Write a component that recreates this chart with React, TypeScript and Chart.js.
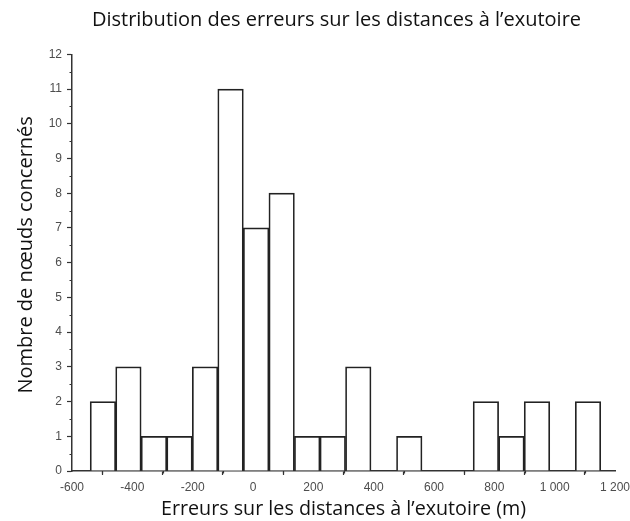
import React, { useEffect, useRef } from "react";
import { Chart, registerables } from "chart.js";

Chart.register(...registerables);

const binEdges = [-540, -455, -371, -286, -201, -117, -32, 53, 137, 222, 307, 391, 476, 560, 645, 730, 814, 899, 984, 1068, 1153];
const counts = [2, 3, 1, 1, 3, 11, 7, 8, 1, 1, 3, 0, 1, 0, 0, 2, 1, 2, 0, 2];

const xTickValues = [-600, -400, -200, 0, 200, 400, 600, 800, 1000, 1200];
const xTickLabels = ["-600", "-400", "-200", "0", "200", "400", "600", "800", "1 000", "1 200"];
const xMinorTicks = [-500, -300, -100, 100, 300, 500, 700, 900, 1100];
const yTickValues = [0, 1, 2, 3, 4, 5, 6, 7, 8, 9, 10, 11, 12];
const yMinorTicks = [0.5, 1.5, 2.5, 3.5, 4.5, 5.5, 6.5, 7.5, 8.5, 9.5, 10.5, 11.5];

const titleText = "Distribution des erreurs sur les distances à l\u2019exutoire";
const xTitle = "Erreurs sur les distances à l\u2019exutoire (m)";
// leading spaces shift the centred rotated title slightly upward, as in the original
const yTitle = "   Nombre de nœuds concernés";

const AXIS_COLOR = "#333";
const LABEL_FONT = "'Liberation Sans', Arial, sans-serif";
const TITLE_FONT = "'Open Sans', Lato, sans-serif";

const minorTicksPlugin = {
  id: "minorTicks",
  afterLayout(chart: any) {
    const t = chart.titleBlock;
    if (t) {
      t.left += 29;
      t.right += 29;
    }
  },
  afterDraw(chart: any) {
    const { ctx, scales } = chart;
    const xs = scales.x;
    const ys = scales.y;
    ctx.save();
    ctx.strokeStyle = AXIS_COLOR;
    ctx.lineWidth = 1.2;
    ctx.beginPath();
    for (const v of xMinorTicks) {
      const px = Math.round(xs.getPixelForValue(v)) + 0.5;
      ctx.moveTo(px, ys.bottom);
      ctx.lineTo(px, ys.bottom + 2.5);
    }
    for (const v of yMinorTicks) {
      const py = Math.round(ys.getPixelForValue(v)) + 0.5;
      ctx.moveTo(xs.left, py);
      ctx.lineTo(xs.left - 2.5, py);
    }
    ctx.stroke();
    ctx.restore();
  },
};

export default function App() {
  const canvasRef = useRef<HTMLCanvasElement | null>(null);

  useEffect(() => {
    if (!canvasRef.current) return;
    const data = counts.map((c, i) => ({ x: (binEdges[i] + binEdges[i + 1]) / 2, y: c === 0 ? null : c }));
    const chart = new Chart(canvasRef.current, {
      type: "bar",
      data: {
        datasets: [
          {
            data,
            backgroundColor: "#ffffff",
            borderColor: "#222",
            borderWidth: 1.7,
            barThickness: "flex",
            barPercentage: 1,
            categoryPercentage: 1,
          } as any,
        ],
      },
      plugins: [minorTicksPlugin],
      options: {
        responsive: false,
        animation: false,
        layout: { padding: { left: 0, right: 15, top: 0, bottom: 0 } },
        plugins: {
          legend: { display: false },
          tooltip: { enabled: false },
          title: {
            display: true,
            text: titleText,
            color: "#111",
            font: { family: TITLE_FONT, size: 20, weight: "normal" },
            padding: { top: 8, bottom: 22.3 },
          },
        },
        scales: {
          x: {
            type: "linear",
            min: -600,
            max: 1200,
            offset: false,
            afterBuildTicks: (scale: any) => {
              scale.ticks = xTickValues.map((v) => ({ value: v }));
            },
            afterFit: (scale: any) => {
              scale.height = 50;
              scale.paddingLeft = 0;
              scale.paddingRight = 0;
            },
            ticks: {
              autoSkip: false,
              maxRotation: 0,
              padding: 5,
              color: "#4d4d4d",
              font: { family: LABEL_FONT, size: 12 },
              callback: (value: any) => {
                const i = xTickValues.indexOf(Number(value));
                return i >= 0 ? xTickLabels[i] : "";
              },
            },
            grid: {
              display: true,
              drawOnChartArea: false,
              drawTicks: true,
              tickLength: 4,
              tickColor: AXIS_COLOR,
              tickWidth: 1.2,
            },
            border: { display: true, color: AXIS_COLOR, width: 1.5 },
            title: {
              display: true,
              text: xTitle,
              color: "#111",
              font: { family: TITLE_FONT, size: 19.7, weight: "normal" },
              padding: { top: 0, bottom: 0 },
            },
          },
          y: {
            type: "linear",
            min: 0,
            max: 12,
            afterBuildTicks: (scale: any) => {
              scale.ticks = yTickValues.map((v) => ({ value: v }));
            },
            afterFit: (scale: any) => {
              scale.width = 72;
              scale.paddingTop = 0;
              scale.paddingBottom = 0;
            },
            ticks: {
              autoSkip: false,
              padding: 5,
              color: "#4d4d4d",
              font: { family: LABEL_FONT, size: 12 },
            },
            grid: {
              display: true,
              drawOnChartArea: false,
              drawTicks: true,
              tickLength: 5,
              tickColor: AXIS_COLOR,
              tickWidth: 1.2,
            },
            border: { display: true, color: AXIS_COLOR, width: 1.5 },
            title: {
              display: true,
              text: yTitle,
              color: "#111",
              font: { family: TITLE_FONT, size: 20, weight: "normal" },
              padding: { top: 14, bottom: 0 },
            },
          },
        },
      },
    });
    return () => chart.destroy();
  }, []);

  return (
    <div style={{ position: "absolute", left: 0, top: 0, width: 630, height: 521, background: "#fff" }}>
      <canvas ref={canvasRef} width={630} height={521} style={{ display: "block" }} />
    </div>
  );
}
